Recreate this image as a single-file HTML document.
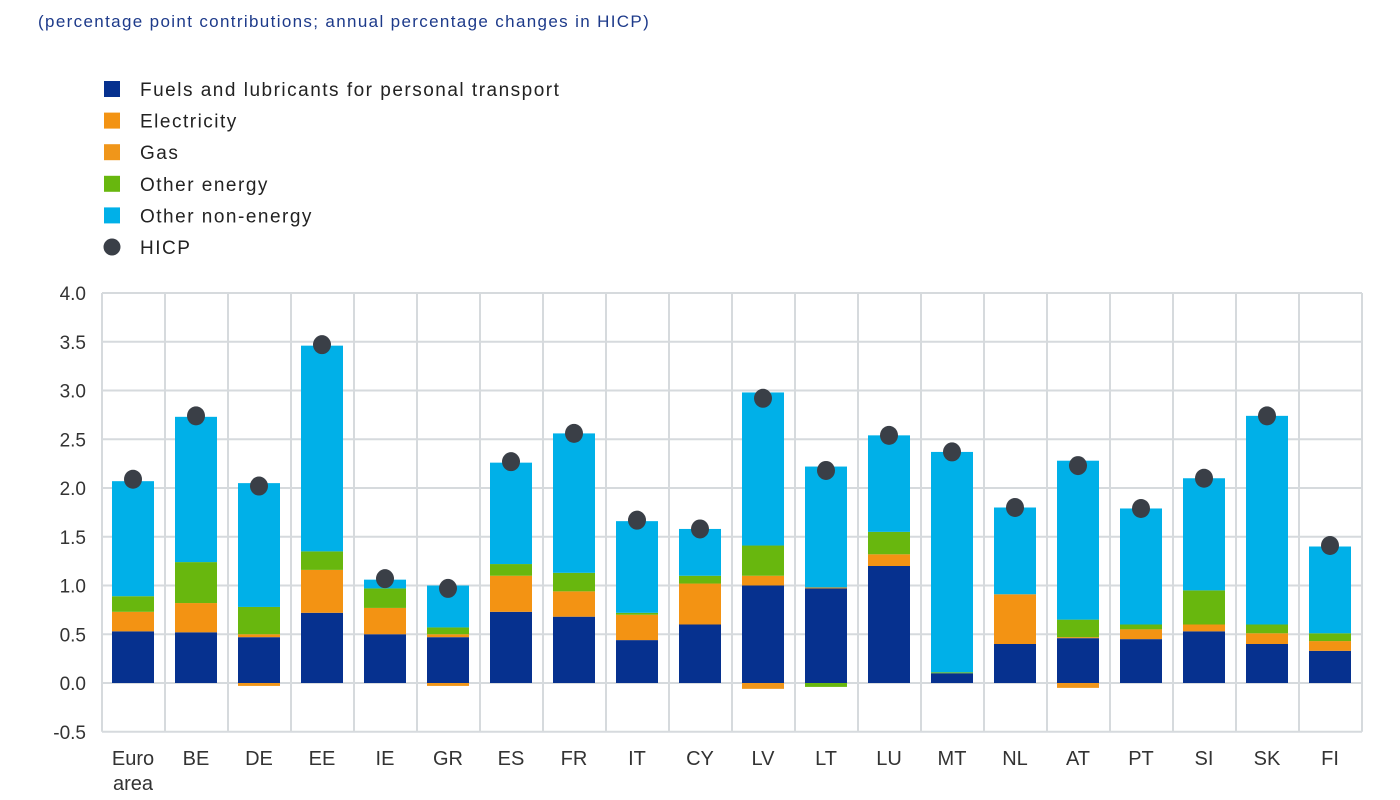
<!DOCTYPE html>
<html><head><meta charset="utf-8"><style>
body{margin:0;background:#fff;font-family:"Liberation Sans",sans-serif}
svg{display:block}
</style></head><body>
<svg id="chart" width="1400" height="800">
<text x="38" y="27" font-size="17" letter-spacing="1.35" fill="#1d3a8a">(percentage point contributions; annual percentage changes in HICP)</text>
<g id="legend"></g>
<g id="grid"></g>
<g id="bars"></g>
<g id="dots"></g>
<g id="yticks"></g>
<g id="xticks"></g>
</svg>
<script>
const categories=["Euro area","BE","DE","EE","IE","GR","ES","FR","IT","CY","LV","LT","LU","MT","NL","AT","PT","SI","SK","FI"];
const fuel=[0.53,0.52,0.47,0.72,0.50,0.47,0.73,0.68,0.44,0.60,1.00,0.97,1.20,0.10,0.40,0.46,0.45,0.53,0.40,0.33];
const electricity=[0.20,0.30,0.03,0.44,0.27,0.03,0.37,0.26,0.26,0.42,0.10,0.01,0.12,0.00,0.51,0.01,0.10,0.07,0.11,0.10];
const gas=[0,0,-0.03,0,0,-0.03,0,0,0,0,-0.06,0,0,0,0,-0.05,0,0,0,0];
const otherEnergy=[0.16,0.42,0.28,0.19,0.20,0.07,0.12,0.19,0.02,0.08,0.31,-0.04,0.23,0.01,0.00,0.18,0.05,0.35,0.09,0.08];
const otherNonEnergy=[1.18,1.49,1.27,2.11,0.09,0.43,1.04,1.43,0.94,0.48,1.57,1.24,0.99,2.26,0.89,1.63,1.19,1.15,2.14,0.89];
const hicp=[2.09,2.74,2.02,3.47,1.07,0.97,2.27,2.56,1.67,1.58,2.92,2.18,2.54,2.37,1.80,2.23,1.79,2.10,2.74,1.41];
const yTicks=[-0.5,0,0.5,1,1.5,2,2.5,3,3.5,4];
const yTickLabels=["-0.5","0.0","0.5","1.0","1.5","2.0","2.5","3.0","3.5","4.0"];

const NS="http://www.w3.org/2000/svg";
const X0=102,STEP=63,Y0=683,PX=97.5,BW=42;
const yS=v=>Y0-v*PX;
const xS=i=>X0+i*STEP;
function mk(t,a,p){const e=document.createElementNS(NS,t);for(const k in a)e.setAttribute(k,a[k]);p.appendChild(e);return e;}
const colors={fuel:"#06318f",elec:"#f39313",gas:"#f0961a",oe:"#68b70e",one:"#00b0e8"};

const legItems=[["Fuels and lubricants for personal transport",colors.fuel,"sq"],["Electricity",colors.elec,"sq"],["Gas",colors.gas,"sq"],["Other energy",colors.oe,"sq"],["Other non-energy",colors.one,"sq"],["HICP","#3a3f47","dot"]];
const lg=document.getElementById("legend");
legItems.forEach((it,i)=>{const y=89+i*31.6;
 let m;
 if(it[2]==="sq"){m=mk("rect",{x:104,y:y-8,width:16,height:16,fill:it[1]},lg);}
 else{m=mk("circle",{cx:112,cy:y,r:8.5,fill:it[1]},lg);}
 
 
 const t=mk("text",{x:140,y:y+7,"font-size":19,"letter-spacing":1.5,fill:"#222"},lg);t.textContent=it[0];
 
 
});

const gg=document.getElementById("grid");
yTicks.forEach(v=>{const l=mk("line",{x1:X0,x2:X0+20*STEP,y1:yS(v),y2:yS(v),stroke:"#d6dadd","stroke-width":2},gg);
 
 });
for(let i=0;i<=categories.length;i++){const l=mk("line",{x1:xS(i),x2:xS(i),y1:yS(4),y2:yS(-0.5),stroke:"#d6dadd","stroke-width":2},gg);
 
 }

const bg=document.getElementById("bars");
const series=[[fuel,colors.fuel,"fuel"],[electricity,colors.elec,"electricity"],[gas,colors.gas,"gas"],[otherEnergy,colors.oe,"other-energy"],[otherNonEnergy,colors.one,"other-non-energy"]];
categories.forEach((c,i)=>{let pos=0,neg=0;const x=xS(i)+10;
 series.forEach(s=>{const v=s[0][i];if(!v)return;let a,b;
  if(v>0){a=pos;b=pos+v;pos=b;}else{a=neg+v;b=neg;neg=a;}
  const r=mk("rect",{x:x,y:yS(b),width:BW,height:Math.max(yS(a)-yS(b),1),fill:s[1]},bg);
  
  
 });
});
const dg=document.getElementById("dots");
hicp.forEach((v,i)=>{const d=mk("ellipse",{cx:xS(i)+31,cy:yS(v),rx:9,ry:9.5,fill:"#3a3f47"},dg);
 
 });
const yg=document.getElementById("yticks");
yTicks.forEach((v,i)=>{const t=mk("text",{x:86,y:yS(v)+7,"font-size":19,fill:"#333","text-anchor":"end"},yg);t.textContent=yTickLabels[i];
 
 });
const xg=document.getElementById("xticks");
categories.forEach((c,i)=>{const parts=c.split(" ");
 parts.forEach((p,j)=>{const t=mk("text",{x:xS(i)+31,y:765+j*25,"font-size":20,fill:"#333","text-anchor":"middle"},xg);t.textContent=p;
  
  });
});
</script>
</body></html>
